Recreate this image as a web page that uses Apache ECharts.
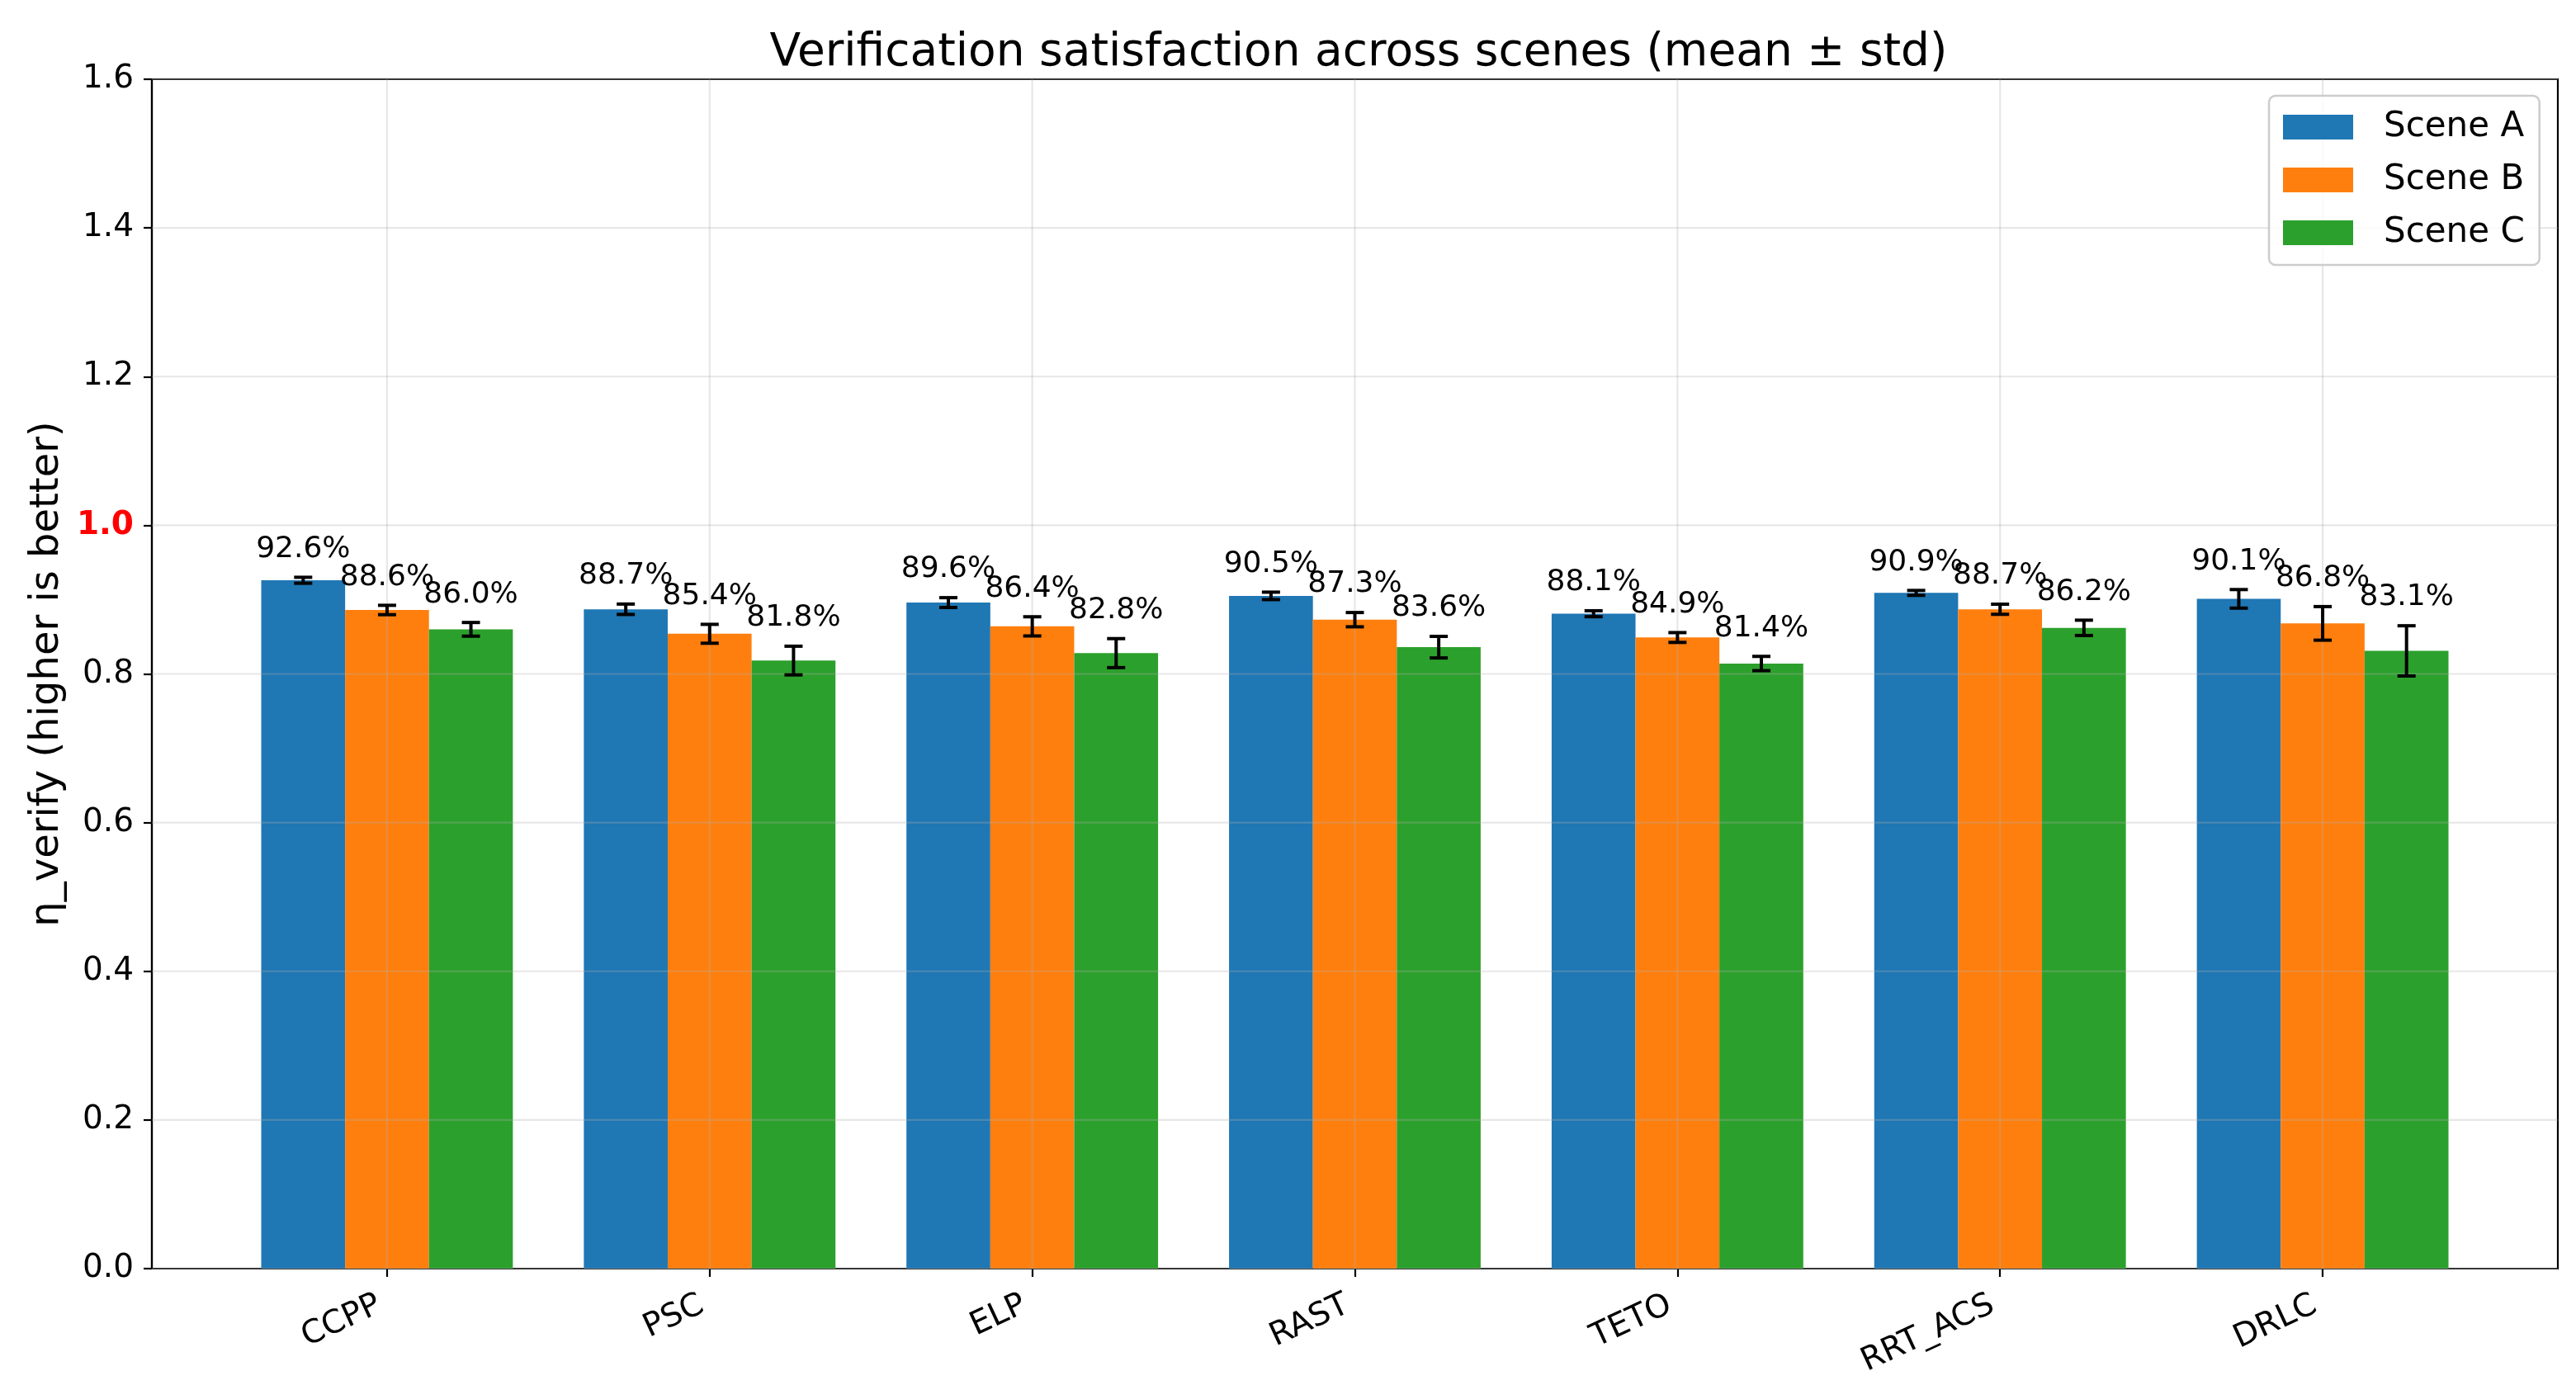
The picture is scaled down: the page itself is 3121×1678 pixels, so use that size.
<!DOCTYPE html>
<html>
<head>
<meta charset="utf-8">
<script src="https://cdn.jsdelivr.net/npm/echarts@6/dist/echarts.min.js"></script>
<style>
html,body{margin:0;padding:0;background:#fff;}
#chart{width:3121px;height:1678px;}
</style>
</head>
<body>
<div id="chart"></div>
<script>
// ---- data ----
const categories = ['CCPP', 'PSC', 'ELP', 'RAST', 'TETO', 'RRT_ACS', 'DRLC'];
const sceneNames = ['Scene A', 'Scene B', 'Scene C'];
const meanA = [0.926, 0.887, 0.896, 0.905, 0.881, 0.909, 0.901];
const meanB = [0.886, 0.854, 0.864, 0.873, 0.849, 0.887, 0.868];
const meanC = [0.860, 0.818, 0.828, 0.836, 0.814, 0.862, 0.831];
const stdA = [0.0040, 0.0070, 0.0066, 0.0050, 0.0040, 0.0033, 0.0125];
const stdB = [0.0063, 0.0127, 0.0129, 0.0096, 0.0066, 0.0068, 0.0226];
const stdC = [0.0092, 0.0193, 0.0195, 0.0145, 0.0096, 0.0103, 0.0338];
const yTicks = [0, 0.2, 0.4, 0.6, 0.8, 1.0, 1.2, 1.4, 1.6];

// ---- style ----
const FONT = 'DejaVu Sans';
const colors = ['#1f77b4', '#ff7f0e', '#2ca02c'];
const BAR_W = 0.26;
const LABEL_PAD = 0.02;
const catIdx = categories.map((c, i) => i);

const means = [meanA, meanB, meanC];
const stds = [stdA, stdB, stdC];

const chart = echarts.init(document.getElementById('chart'), null, {renderer: 'canvas'});

const series = [];

// bars
sceneNames.forEach((name, s) => {
  const offset = (s - 1) * BAR_W;
  series.push({
    name: name,
    type: 'custom',
    z: 2,
    itemStyle: {color: colors[s]},
    encode: {x: 0, y: 1},
    data: catIdx.map(i => [i, means[s][i], stds[s][i]]),
    renderItem: function (params, api) {
      const x = api.value(0) + offset;
      const y = api.value(1);
      const p0 = api.coord([x - BAR_W / 2, y]);
      const p1 = api.coord([x + BAR_W / 2, 0]);
      return {
        type: 'rect',
        shape: {x: p0[0], y: p0[1], width: p1[0] - p0[0], height: p1[1] - p0[1]},
        style: {fill: colors[s]}
      };
    }
  });
});

// grid lines (drawn above bars, like matplotlib)
series.push({
  name: 'gridX',
  type: 'custom',
  z: 3,
  silent: true,
  encode: {x: 0, y: 1},
  data: catIdx.map(i => [i, 0]),
  renderItem: function (params, api) {
    const cs = params.coordSys;
    const p = api.coord([api.value(0), 0]);
    return {
      type: 'line',
      shape: {x1: p[0], y1: cs.y, x2: p[0], y2: cs.y + cs.height},
      style: {stroke: 'rgba(176,176,176,0.3)', lineWidth: 2.2}
    };
  }
});
series.push({
  name: 'gridY',
  type: 'custom',
  z: 3,
  silent: true,
  encode: {x: 0, y: 1},
  data: yTicks.map(v => [0, v]),
  renderItem: function (params, api) {
    const cs = params.coordSys;
    const p = api.coord([0, api.value(1)]);
    return {
      type: 'line',
      shape: {x1: cs.x, y1: p[1], x2: cs.x + cs.width, y2: p[1]},
      style: {stroke: 'rgba(176,176,176,0.3)', lineWidth: 2.2}
    };
  }
});

// error bars and value labels
sceneNames.forEach((name, s) => {
  const offset = (s - 1) * BAR_W;
  series.push({
    name: name + ' err',
    type: 'custom',
    z: 4,
    silent: true,
    encode: {x: 0, y: 1},
    data: catIdx.map(i => [i, means[s][i], stds[s][i]]),
    renderItem: function (params, api) {
      const x = api.value(0) + offset;
      const m = api.value(1);
      const sd = api.value(2);
      const top = api.coord([x, m + sd]);
      const bot = api.coord([x, m - sd]);
      const lab = api.coord([x, m + sd + LABEL_PAD]);
      const cap = 11;
      const st = {stroke: '#000', lineWidth: 4};
      return {
        type: 'group',
        children: [
          {type: 'line', shape: {x1: top[0], y1: top[1], x2: bot[0], y2: bot[1]}, style: st},
          {type: 'line', shape: {x1: top[0] - cap, y1: top[1], x2: top[0] + cap, y2: top[1]}, style: st},
          {type: 'line', shape: {x1: bot[0] - cap, y1: bot[1], x2: bot[0] + cap, y2: bot[1]}, style: st},
          {type: 'text', style: {
            text: (m * 100).toFixed(1) + '%',
            x: lab[0], y: lab[1] + 2,
            fill: '#000', fontSize: 36, fontFamily: FONT,
            align: 'center', verticalAlign: 'bottom'
          }}
        ]
      };
    }
  });
});

const option = {
  animation: false,
  backgroundColor: '#ffffff',
  color: colors,
  textStyle: {fontFamily: FONT},
  title: {
    text: 'Verification satisfaction across scenes (mean ± std)',
    left: 1641,
    textAlign: 'center',
    top: 32,
    textStyle: {fontSize: 55, fontWeight: 'normal', color: '#000', fontFamily: FONT}
  },
  legend: {
    data: sceneNames,
    orient: 'vertical',
    left: 2749,
    top: 116,
    icon: 'rect',
    itemWidth: 85,
    itemHeight: 30,
    itemGap: 22,
    padding: [17, 18, 18, 17],
    borderColor: '#cccccc',
    borderWidth: 2.5,
    borderRadius: 8,
    backgroundColor: 'rgba(255,255,255,0.8)',
    textStyle: {fontSize: 42, fontFamily: FONT, color: '#000', padding: [0, 0, 0, 32]}
  },
  grid: {
    left: 184, right: 22, top: 96, bottom: 141,
    show: true, borderColor: '#000', borderWidth: 2.2, backgroundColor: 'transparent'
  },
  xAxis: {
    type: 'value',
    min: -0.729,
    max: 6.729,
    axisLine: {show: true, onZero: false, lineStyle: {color: '#000', width: 2.2}},
    axisTick: {show: true, customValues: catIdx, length: 10, lineStyle: {color: '#000', width: 2.2}},
    axisLabel: {
      customValues: catIdx,
      formatter: function (v) { return categories[Math.round(v)]; },
      rotate: 25,
      fontSize: 39,
      fontFamily: FONT,
      color: '#000',
      margin: 38,
      padding: [0, 10, 0, 0]
    },
    splitLine: {show: false}
  },
  yAxis: {
    type: 'value',
    min: 0,
    max: 1.6,
    interval: 0.2,
    name: 'η_verify (higher is better)',
    nameLocation: 'middle',
    nameRotate: 90,
    nameGap: 100,
    nameTextStyle: {fontSize: 48, fontFamily: FONT, color: '#000'},
    axisLine: {show: true, onZero: false, lineStyle: {color: '#000', width: 2.2}},
    axisTick: {show: true, length: 10, lineStyle: {color: '#000', width: 2.2}},
    axisLabel: {
      fontSize: 39,
      fontFamily: FONT,
      color: '#000',
      margin: 22,
      formatter: function (v) {
        const t = v.toFixed(1);
        return Math.abs(v - 1) < 1e-9 ? '{r|' + t + '}' : t;
      },
      rich: {r: {color: '#ff0000', fontWeight: 'bold', fontSize: 39, fontFamily: FONT}}
    },
    splitLine: {show: false}
  },
  series: series
};

chart.setOption(option);
</script>
</body>
</html>
